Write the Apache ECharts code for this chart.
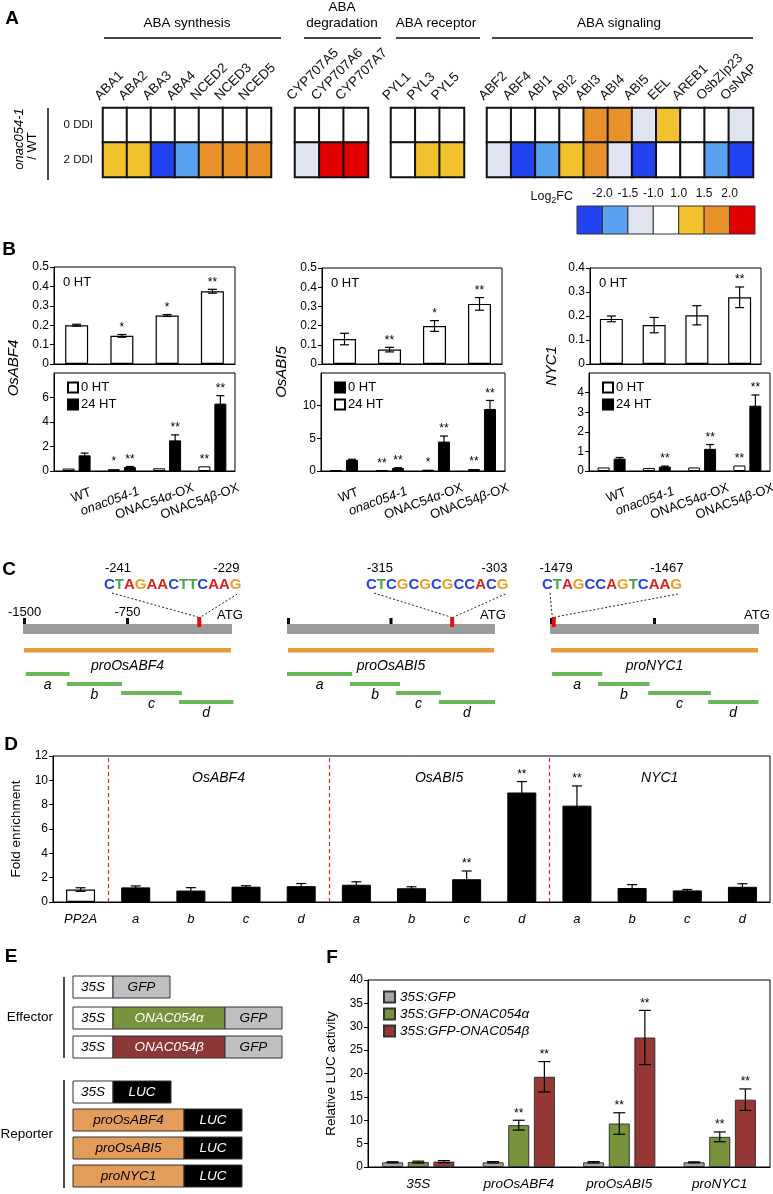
<!DOCTYPE html>
<html>
<head>
<meta charset="utf-8">
<script src="https://cdn.jsdelivr.net/npm/echarts@6.0.0/dist/echarts.min.js"></script>
<style>
html,body{margin:0;padding:0;background:#ffffff;}
#chart{width:773px;height:1194px;}
</style>
</head>
<body>
<div id="chart"></div>
<script>
// ======================= DATA =======================
// Panel A: Log2 fold change onac054-1 / WT (class estimates read from colours)
const hmRows = ['0 DDI', '2 DDI'];
const synthGenes = ['ABA1','ABA2','ABA3','ABA4','NCED2','NCED3','NCED5'];
const synthDDI0 = [0,0,0,0,0,0,0];
const synthDDI2 = [1.2,1.2,-2.3,-1.7,1.7,1.7,1.7];
const degrGenes = ['CYP707A5','CYP707A6','CYP707A7'];
const degrDDI0 = [0,0,0];
const degrDDI2 = [-1.2,2.3,2.3];
const recGenes = ['PYL1','PYL3','PYL5'];
const recDDI0 = [0,0,0];
const recDDI2 = [0,1.2,1.2];
const sigGenes = ['ABF2','ABF4','ABI1','ABI2','ABI3','ABI4','ABI5','EEL','AREB1','OsbZIp23','OsNAP'];
const sigDDI0 = [0,0,0,0,1.7,1.7,-1.2,1.2,0,0,-1.2];
const sigDDI2 = [-1.2,-2.3,-1.7,1.2,1.7,-1.2,-2.3,0,0,-1.7,-2.3];
const groupNames = ['ABA synthesis','ABA\ndegradation','ABA receptor','ABA signaling'];
const fcBreakLabels = ['-2.0','-1.5','-1.0','1.0','1.5','2.0'];
const fcBreaks = [-2,-1.5,-1,1,1.5,2];
const fcLegendValues = [-2.3,-1.7,-1.2,0,1.2,1.7,2.3];

// Panel B
const bCats = ['WT','onac054-1','ONAC54α-OX','ONAC54β-OX'];
const abf4Top = [0.200,0.145,0.250,0.375];
const abf4TopErr = [0.005,0.007,0.005,0.010];
const abf4TopSig = ['','*','*','**'];
const abf4White = [0.20,0.15,0.22,0.38];
const abf4WhiteSig = ['','*','','**'];
const abf4Black = [1.28,0.32,2.50,5.50];
const abf4BlackErr = [0.18,0.05,0.45,0.65];
const abf4BlackSig = ['','**','**','**'];
const abf4Legend = ['0 HT','24 HT'];           // names of [white, black] series

const abi5Top = [0.130,0.075,0.198,0.313];
const abi5TopErr = [0.030,0.012,0.028,0.033];
const abi5TopSig = ['','**','*','**'];
const abi5White = [0.12,0.08,0.20,0.30];
const abi5WhiteSig = ['','**','*','**'];
const abi5Black = [1.70,0.45,4.50,9.50];
const abi5BlackErr = [0.10,0.05,0.85,1.30];
const abi5BlackSig = ['','**','**','**'];
const abi5Legend = ['24 HT','0 HT'];           // as drawn in the original legend

const nyc1Top = [0.188,0.162,0.203,0.278];
const nyc1TopErr = [0.012,0.032,0.040,0.043];
const nyc1TopSig = ['','','','**'];
const nyc1White = [0.18,0.15,0.18,0.28];
const nyc1WhiteSig = ['','','','**'];
const nyc1Black = [0.63,0.22,1.13,3.33];
const nyc1BlackErr = [0.06,0.03,0.22,0.55];
const nyc1BlackSig = ['','**','**','**'];
const nyc1Legend = ['0 HT','24 HT'];
const topPanelNote = '0 HT';

// Panel C: promoter maps (bp relative to ATG)
const promoters = ['proOsABF4','proOsABI5','proNYC1'];
const promoterRange = [-1500, 0];
const scaleTicks = [-1500, -750];
const motifs = [[-241,-229],[-315,-303],[-1479,-1467]];
const motifSeqs = ['CTAGAACTTCAAG','CTCGCGCGCCACG','CTAGCCAGTCAAG'];
const fragNames = ['a','b','c','d'];
const abf4Frags = [[-1480,-1165],[-1185,-790],[-795,-360],[-380,10]];
const abi5Frags = [[-1500,-1030],[-1045,-685],[-715,-390],[-405,0]];
const nyc1Frags = [[-1485,-1125],[-1155,-785],[-795,-345],[-365,-5]];

// Panel D: ChIP fold enrichment
const dCats = ['PP2A','a','b','c','d','a','b','c','d','a','b','c','d'];
const dVals = [1.02,1.20,0.94,1.26,1.30,1.42,1.13,1.87,9.00,7.92,1.15,0.95,1.25];
const dErr  = [0.15,0.12,0.24,0.08,0.22,0.24,0.12,0.68,0.90,1.62,0.28,0.08,0.25];
const dSig  = ['','','','','','','','**','**','**','','',''];
const dGenes = ['OsABF4','OsABI5','NYC1'];
const dGroupStart = [1,5,9];
const dGroupSize = 4;

// Panel E: constructs
const effectorRows = [['35S','GFP'],['35S','ONAC054α','GFP'],['35S','ONAC054β','GFP']];
const reporterRows = [['35S','LUC'],['proOsABF4','LUC'],['proOsABI5','LUC'],['proNYC1','LUC']];

// Panel F: relative LUC activity
const fCats = ['35S','proOsABF4','proOsABI5','proNYC1'];
const fSeriesNames = ['35S:GFP','35S:GFP-ONAC054α','35S:GFP-ONAC054β'];
const fGfp = [1.00,1.00,1.00,1.00];
const fGfpErr = [0.12,0.15,0.15,0.10];
const fGfpSig = ['','','',''];
const fAlpha = [1.05,8.95,9.30,6.45];
const fAlphaErr = [0.20,1.05,2.30,1.05];
const fAlphaSig = ['','**','**','**'];
const fBeta = [1.15,19.30,27.70,14.40];
const fBetaErr = [0.22,3.25,5.80,2.30];
const fBetaSig = ['','**','**','**'];

// ======================= LAYOUT / STYLE =======================
const FF = '"Liberation Sans", Arial, Helvetica, sans-serif';
const COL = {db:'#2342f0', mb:'#5aa2f0', pb:'#dfe4f0', w:'#ffffff', y:'#f2c12e', o:'#e8912b', r:'#e00000'};
const grids = [], xAxes = [], yAxes = [], series = [], legends = [], graphics = [];
const hmSeriesIdx = [];

function addGrid(g){ grids.push(Object.assign({outerBoundsMode:'none', containLabel:false}, g)); return grids.length-1; }
function addX(a){ xAxes.push(a); return xAxes.length-1; }
function addY(a){ yAxes.push(a); return yAxes.length-1; }
function valueAxis(gi, min, max, interval, fs, hideMax, extra){
  return Object.assign({type:'value', gridIndex:gi, min:min, max:max, interval:interval,
    axisLine:{show:true, lineStyle:{color:'#000', width:1}},
    axisTick:{show:true, inside:false, length:4, lineStyle:{color:'#000', width:1}},
    axisLabel:{fontSize:fs, color:'#000', fontFamily:FF, margin:5, showMaxLabel: hideMax ? false : true},
    splitLine:{show:false}}, extra || {});
}
function catAxis(gi, data, labelOpts){
  return {type:'category', gridIndex:gi, data:data,
    axisLine:{show:true, lineStyle:{color:'#000', width:1}}, axisTick:{show:false},
    axisLabel: labelOpts ? Object.assign({interval:0, color:'#000', fontFamily:FF}, labelOpts) : {show:false},
    splitLine:{show:false}};
}
function txt(x, y, text, font, extra){
  const st = Object.assign({text:text, font:font, fill:'#000', align:'center', verticalAlign:'middle'}, extra || {});
  return {type:'text', x:x, y:y, silent:true, style:st};
}
function errBars(xi, yi, vals, errs, sigs, offset, capW, starSize){
  return {type:'custom', xAxisIndex:xi, yAxisIndex:yi, z:5, silent:true,
    data: vals.map((v,i) => [i, v, errs ? errs[i] : 0]),
    renderItem: function(params, api){
      const i = api.value(0), v = api.value(1), e = api.value(2);
      const c = api.coord([i, v]);
      const x = c[0] + offset;
      const yTop = api.coord([i, v + e])[1];
      const yBot = api.coord([i, Math.max(v - e, 0)])[1];
      const ch = [];
      const st = {stroke:'#000', lineWidth:1.2};
      if (e > 0) {
        ch.push({type:'line', shape:{x1:x, y1:yTop, x2:x, y2:yBot}, style:st});
        ch.push({type:'line', shape:{x1:x-capW/2, y1:yTop, x2:x+capW/2, y2:yTop}, style:st});
        ch.push({type:'line', shape:{x1:x-capW/2, y1:yBot, x2:x+capW/2, y2:yBot}, style:st});
      }
      const s = sigs ? sigs[params.dataIndex] : '';
      if (s) ch.push({type:'text', style:{text:s, x:x, y:yTop-1, align:'center', verticalAlign:'bottom', font:starSize+'px '+FF, fill:'#000'}});
      return {type:'group', children:ch};
    }};
}

// ---------------- Panel A ----------------
const hmBlocks = [
  {genes:synthGenes, r0:synthDDI0, r2:synthDDI2, left:103, width:168, showY:true, span:[104,281], hx:187},
  {genes:degrGenes, r0:degrDDI0, r2:degrDDI2, left:295, width:73, span:[304,381], hx:342},
  {genes:recGenes, r0:recDDI0, r2:recDDI2, left:391, width:73, span:[396,480], hx:436},
  {genes:sigGenes, r0:sigDDI0, r2:sigDDI2, left:487, width:266, span:[492,753], hx:619}
];
hmBlocks.forEach((b, k) => {
  const gi = addGrid({left:b.left, top:108, width:b.width, height:69});
  const xi = addX({type:'category', gridIndex:gi, data:b.genes, position:'top',
    axisLine:{show:false}, axisTick:{show:false}, splitLine:{show:false}, axisLabel:{show:false}});
  const yi = addY({type:'category', gridIndex:gi, data:hmRows, inverse:true,
    axisLine:{show:false}, axisTick:{show:false}, splitLine:{show:false},
    axisLabel:{show:!!b.showY, fontSize:11.5, color:'#111', fontFamily:FF, margin:10}});
  const data = b.r0.map((v,i) => [i, 0, v]).concat(b.r2.map((v,i) => [i, 1, v]));
  series.push({type:'heatmap', xAxisIndex:xi, yAxisIndex:yi, data:data, silent:true,
    itemStyle:{borderColor:'#111', borderWidth:2}, emphasis:{disabled:true}});
  hmSeriesIdx.push(series.length-1);
  // rotated gene labels, placed through the category scale
  const genes = b.genes;
  series.push({type:'custom', xAxisIndex:xi, yAxisIndex:yi, silent:true,
    data: genes.map((g,i) => [i, 0]),
    renderItem: function(params, api){
      const c = api.coord([api.value(0), 0]);
      return {type:'text', x:c[0]-13, y:params.coordSys.y-5, rotation:Math.PI/4,
        style:{text:genes[params.dataIndex], x:0, y:0, align:'left', verticalAlign:'bottom', font:'13.5px '+FF, fill:'#111'}};
    }});
  // group header + rule
  graphics.push(txt(b.hx, 31, groupNames[k], '13.5px '+FF, {verticalAlign:'bottom', lineHeight:16}));
  graphics.push({type:'line', silent:true, shape:{x1:b.span[0], y1:38, x2:b.span[1], y2:38}, style:{stroke:'#444', lineWidth:2}});
});
// colour legend
{
  const gi = addGrid({left:577, top:206, width:178, height:28});
  const xi = addX({type:'value', gridIndex:gi, min:0, max:fcLegendValues.length, interval:1, position:'top',
    axisLine:{show:false}, axisTick:{show:false}, splitLine:{show:false},
    axisLabel:{fontSize:12, color:'#111', fontFamily:FF, margin:6,
      formatter: v => (v >= 1 && v <= fcBreakLabels.length) ? fcBreakLabels[v-1] : ''}});
  const yi = addY({type:'value', gridIndex:gi, min:0, max:1, show:false});
  series.push({type:'custom', xAxisIndex:xi, yAxisIndex:yi, silent:true,
    data: fcLegendValues.map((v,i) => [i, 0, v]),
    renderItem: function(params, api){
      const p0 = api.coord([api.value(0), 1]);
      const p1 = api.coord([api.value(0)+1, 0]);
      return {type:'rect', shape:{x:p0[0], y:p0[1], width:p1[0]-p0[0], height:p1[1]-p0[1]},
        style:{fill:api.visual('color'), stroke:'#333', lineWidth:1}};
    }});
  hmSeriesIdx.push(series.length-1);
  graphics.push(txt(573, 197, '{n|Log}{s|2}{n|FC}', '12.5px '+FF, {align:'right',
    rich:{n:{fontSize:12.5, fontFamily:FF, lineHeight:16, fill:'#111'}, s:{fontSize:9, fontFamily:FF, lineHeight:9, verticalAlign:'bottom', fill:'#111'}}}));
}
graphics.push({type:'line', silent:true, shape:{x1:48, y1:108, x2:48, y2:180}, style:{stroke:'#111', lineWidth:1.5}});
graphics.push(Object.assign(txt(19, 139, 'onac054-1', 'italic 13px '+FF), {rotation:Math.PI/2}));
graphics.push(Object.assign(txt(32, 146, '/ WT', '13px '+FF), {rotation:Math.PI/2}));

// ---------------- Panel B ----------------
const bRich = {i:{fontStyle:'italic', fontSize:13, fontFamily:FF, color:'#000', padding:[0,10,0,0]},
               w:{fontSize:13, fontFamily:FF, color:'#000', padding:[0,13,0,0]},
               g:{fontStyle:'italic', fontSize:13, fontFamily:FF, color:'#000'}};
function bLabelFmt(v){
  if (v === 'onac054-1') return '{i|onac054-1}';
  if (v === 'WT') return '{w|WT}';
  return v.replace(/([αβ])/, '{g|$1}');
}
const bCharts = [
  {yName:'OsABF4', nameX:14, nameY:368,
   up:{left:54, top:267, width:181, height:97, max:0.5, interval:0.1},
   lo:{left:54, top:373, width:181, height:98, max:8, interval:2},
   top:[abf4Top, abf4TopErr, abf4TopSig],
   white:[abf4White, null, abf4WhiteSig], black:[abf4Black, abf4BlackErr, abf4BlackSig],
   names:abf4Legend, legendOrder:[0,1]},
  {yName:'OsABI5', nameX:282, nameY:372,
   up:{left:322, top:268, width:180, height:96, max:0.5, interval:0.1},
   lo:{left:321, top:373, width:184, height:98, max:15, interval:5},
   top:[abi5Top, abi5TopErr, abi5TopSig],
   white:[abi5White, null, abi5WhiteSig], black:[abi5Black, abi5BlackErr, abi5BlackSig],
   names:abi5Legend, legendOrder:[1,0]},
  {yName:'NYC1', nameX:552, nameY:366,
   up:{left:590, top:268, width:171, height:96, max:0.4, interval:0.1},
   lo:{left:589, top:373, width:181, height:98, max:5, interval:1},
   top:[nyc1Top, nyc1TopErr, nyc1TopSig],
   white:[nyc1White, null, nyc1WhiteSig], black:[nyc1Black, nyc1BlackErr, nyc1BlackSig],
   names:nyc1Legend, legendOrder:[0,1]}
];
bCharts.forEach((b, k) => {
  // upper panel (0 HT)
  const gU = addGrid({left:b.up.left, top:b.up.top, width:b.up.width, height:b.up.height, show:true, borderColor:'#000', borderWidth:1});
  const xU = addX(catAxis(gU, bCats, null));
  const yU = addY(valueAxis(gU, 0, b.up.max, b.up.interval, 12, false));
  series.push({type:'bar', xAxisIndex:xU, yAxisIndex:yU, data:b.top[0], barWidth:23, silent:true,
    itemStyle:{color:'#fff', borderColor:'#000', borderWidth:1.2}});
  series.push(errBars(xU, yU, b.top[0], b.top[1], b.top[2], 0, 9, 12));
  graphics.push(txt(b.up.left+9, b.up.top+15, topPanelNote, '13px '+FF, {align:'left'}));
  // lower panel (0 HT vs 24 HT)
  const gL = addGrid({left:b.lo.left, top:b.lo.top, width:b.lo.width, height:b.lo.height, show:true, borderColor:'#000', borderWidth:1});
  const xL = addX(catAxis(gL, bCats, {rotate:20, fontSize:13, margin:26, padding:[0,-28,0,0], formatter:bLabelFmt, rich:bRich}));
  const yL = addY(valueAxis(gL, 0, b.lo.max, b.lo.interval, 12, true));
  const keyW = 'B'+k+'w', keyB = 'B'+k+'b';
  series.push({type:'bar', name:keyW, xAxisIndex:xL, yAxisIndex:yL, data:b.white[0], barWidth:12, barGap:'33%', silent:true,
    itemStyle:{color:'#fff', borderColor:'#000', borderWidth:1}});
  series.push({type:'bar', name:keyB, xAxisIndex:xL, yAxisIndex:yL, data:b.black[0], barWidth:12, barGap:'33%', silent:true,
    itemStyle:{color:'#000', borderColor:'#000', borderWidth:1}});
  series.push(errBars(xL, yL, b.white[0], b.white[1], b.white[2], -8, 8, 12));
  series.push(errBars(xL, yL, b.black[0], b.black[1], b.black[2], 8, 8, 12));
  const keys = [keyW, keyB];
  const nameMap = {}; nameMap[keyW] = b.names[0]; nameMap[keyB] = b.names[1];
  legends.push({left:b.lo.left+8, top:b.lo.top+3, orient:'vertical', itemGap:4, itemWidth:10, itemHeight:10,
    icon:'rect', selectedMode:false, data:b.legendOrder.map(i => keys[i]),
    formatter: n => nameMap[n], textStyle:{fontSize:13, color:'#000', fontFamily:FF, padding:[0,0,0,-2]}});
  graphics.push(Object.assign(txt(b.nameX, b.nameY, b.yName, 'italic 15px '+FF), {rotation:Math.PI/2}));
});

// ---------------- Panel C ----------------
const cLayout = [{left:23, width:209, seqLeft:104}, {left:287, width:208, seqLeft:366}, {left:550, width:209, seqLeft:542}];
const cFrags = [abf4Frags, abi5Frags, nyc1Frags];
const cTop = 610, cH = 100;
const fragLevels = [62, 72, 81, 90];
const seqColors = {A:'#d82222', C:'#2446d8', G:'#ef9c22', T:'#45a84f'};
const SEQ_FONT = 'bold 15px ' + FF;
const measureCtx = document.createElement('canvas').getContext('2d');
function textWidth(s, font){ measureCtx.font = font; return measureCtx.measureText(s).width; }
const seqRich = {};
Object.keys(seqColors).forEach(ch => { seqRich[ch] = {fill:seqColors[ch], fontSize:15, fontWeight:'bold', fontFamily:FF}; });

promoters.forEach((pname, p) => {
  const L = cLayout[p];
  const gi = addGrid({left:L.left, top:cTop, width:L.width, height:cH});
  const xi = addX({type:'value', gridIndex:gi, min:promoterRange[0], max:promoterRange[1], show:false});
  const yi = addY({type:'value', gridIndex:gi, min:0, max:cH, inverse:true, show:false});
  const seqW = textWidth(motifSeqs[p], SEQ_FONT);
  const showScale = (p === 0);
  series.push({type:'custom', xAxisIndex:xi, yAxisIndex:yi, silent:true, z:3,
    data:[[promoterRange[0], promoterRange[1], motifs[p][0], motifs[p][1]]],
    renderItem: function(params, api){
      const s = api.value(0), e = api.value(1);
      const X = v => api.coord([v, 0])[0];
      const Y = v => api.coord([s, v])[1];
      const x0 = X(s), x1 = X(e);
      const mx = X((api.value(2) + api.value(3)) / 2);
      const ch = [];
      ch.push({type:'rect', shape:{x:x0, y:Y(14), width:x1-x0, height:Y(24)-Y(14)}, style:{fill:'#9b9b9b'}});
      scaleTicks.forEach(t => {
        const tx = X(t) + (t === s ? 1.5 : 0);
        ch.push({type:'rect', shape:{x:tx-1.5, y:Y(8), width:3, height:Y(14)-Y(8)}, style:{fill:'#000'}});
        if (showScale) ch.push({type:'text', style:{text:String(t), x:tx, y:Y(2), align:'center', verticalAlign:'middle', font:'13px '+FF, fill:'#000'}});
      });
      ch.push({type:'rect', shape:{x:mx-2, y:Y(7), width:4, height:Y(17)-Y(7)}, style:{fill:'#e01010'}});
      ch.push({type:'text', style:{text:'ATG', x:x1-2, y:Y(5), align:'center', verticalAlign:'middle', font:'13px '+FF, fill:'#000'}});
      ch.push({type:'rect', shape:{x:x0+1, y:Y(38), width:x1-x0-2, height:Y(42.5)-Y(38)}, style:{fill:'#e69b3a'}});
      ch.push({type:'text', style:{text:pname, x:X((s+e)/2), y:Y(56), align:'center', verticalAlign:'middle', font:'italic 14px '+FF, fill:'#000'}});
      const ds = {stroke:'#222', lineWidth:1, lineDash:[2,2]};
      ch.push({type:'line', shape:{x1:L.seqLeft+8, y1:593, x2:mx-1.5, y2:Y(7)}, style:ds});
      ch.push({type:'line', shape:{x1:L.seqLeft+seqW-3, y1:594, x2:mx+1.5, y2:Y(7)}, style:ds});
      return {type:'group', children:ch};
    }});
  series.push({type:'custom', xAxisIndex:xi, yAxisIndex:yi, silent:true, z:3,
    data: cFrags[p].map((f,k) => [f[0], f[1], k]),
    renderItem: function(params, api){
      const k = api.value(2);
      const a = api.coord([api.value(0), fragLevels[k]]);
      const b = api.coord([api.value(1), fragLevels[k] + 4]);
      return {type:'group', children:[
        {type:'rect', shape:{x:a[0], y:a[1], width:b[0]-a[0], height:b[1]-a[1]}, style:{fill:'#68b85a'}},
        {type:'text', style:{text:fragNames[k], x:(a[0]+b[0])/2, y:a[1]+13, align:'center', verticalAlign:'middle', font:'italic 14px '+FF, fill:'#000'}}
      ]};
    }});
  graphics.push({type:'text', x:L.seqLeft, y:585, silent:true,
    style:{text: motifSeqs[p].split('').map(c => '{'+c+'|'+c+'}').join(''), rich:seqRich, font:SEQ_FONT, align:'left', verticalAlign:'middle'}});
  graphics.push(txt(L.seqLeft+14, 568, String(motifs[p][0]), '13px '+FF));
  graphics.push(txt(L.seqLeft+seqW-14, 568, String(motifs[p][1]), '13px '+FF));
});

// ---------------- Panel D ----------------
{
  const gi = addGrid({left:53, top:756, width:717, height:146, show:true, borderColor:'#000', borderWidth:1});
  const xi = addX(catAxis(gi, dCats.map((c,i) => c + '_' + i), {fontSize:13, fontStyle:'italic', margin:11, formatter:(v, i) => dCats[i]}));
  const xv = addX({type:'value', gridIndex:gi, min:0, max:dCats.length, show:false});
  const yi = addY(valueAxis(gi, 0, 12, 2, 12, false, {name:'Fold enrichment', nameLocation:'middle', nameRotate:90, nameGap:29,
    nameTextStyle:{fontSize:13.5, fontFamily:FF, color:'#000'}}));
  series.push({type:'bar', xAxisIndex:xi, yAxisIndex:yi, barWidth:29, silent:true,
    data: dVals.map((v,i) => ({value:v, itemStyle: i === 0 ? {color:'#fff', borderColor:'#000', borderWidth:1.2} : {color:'#000', borderColor:'#000', borderWidth:1}}))});
  series.push(errBars(xi, yi, dVals, dErr, dSig, 0, 10, 12));
  series.push({type:'line', xAxisIndex:xv, yAxisIndex:yi, data:[[0,0]], showSymbol:false, silent:true, lineStyle:{opacity:0},
    markLine:{silent:true, symbol:'none', label:{show:false}, animation:false,
      lineStyle:{color:'#e02424', type:[4,3], width:1.2},
      data: dGroupStart.map(v => ({xAxis:v}))}});
  series.push({type:'custom', xAxisIndex:xv, yAxisIndex:yi, silent:true,
    data: dGenes.map((g,k) => [dGroupStart[k] + dGroupSize/2, k]),
    renderItem: function(params, api){
      const x = api.coord([api.value(0), 0])[0];
      return {type:'text', style:{text:dGenes[api.value(1)], x:x, y:params.coordSys.y + 22, align:'center', verticalAlign:'middle', font:'italic 14px '+FF, fill:'#000'}};
    }});
}

// ---------------- Panel E ----------------
{
  const partW = {'35S':40, 'GFP':57, 'ONAC054α':112, 'ONAC054β':112, 'LUC':58, 'proOsABF4':111, 'proOsABI5':111, 'proNYC1':111};
  const partFill = {'35S':'#ffffff', 'GFP':'#bfbfbf', 'ONAC054α':'#77933c', 'ONAC054β':'#8c3836', 'LUC':'#000000', 'proOsABF4':'#e49c5b', 'proOsABI5':'#e49c5b', 'proNYC1':'#e49c5b'};
  const whiteText = {'ONAC054α':1, 'ONAC054β':1, 'LUC':1};
  function drawRow(parts, top){
    let x = 73;
    parts.forEach(pt => {
      const w = partW[pt];
      graphics.push({type:'rect', silent:true, shape:{x:x, y:top, width:w, height:22}, style:{fill:partFill[pt], stroke:'#333', lineWidth:1}});
      graphics.push(txt(x + w/2, top + 11.5, pt, 'italic 13.5px '+FF, {fill: whiteText[pt] ? '#fff' : '#000'}));
      x += w;
    });
  }
  const effTops = [976, 1007, 1036];
  const repTops = [1081, 1109, 1137, 1165];
  effectorRows.forEach((r,i) => drawRow(r, effTops[i]));
  reporterRows.forEach((r,i) => drawRow(r, repTops[i]));
  graphics.push({type:'line', silent:true, shape:{x1:64, y1:977, x2:64, y2:1058}, style:{stroke:'#111', lineWidth:1.5}});
  graphics.push({type:'line', silent:true, shape:{x1:64, y1:1080, x2:64, y2:1188}, style:{stroke:'#111', lineWidth:1.5}});
  graphics.push(txt(53, 1017, 'Effector', '13.5px '+FF, {align:'right'}));
  graphics.push(txt(53, 1134, 'Reporter', '13.5px '+FF, {align:'right'}));
}

// ---------------- Panel F ----------------
{
  const gi = addGrid({left:368, top:980, width:402, height:187, show:true, borderColor:'#000', borderWidth:1});
  const xi = addX(catAxis(gi, fCats, {fontSize:13.5, fontStyle:'italic', margin:10}));
  const yi = addY(valueAxis(gi, 0, 40, 5, 12, false, {name:'Relative LUC activity', nameLocation:'middle', nameRotate:90, nameGap:27,
    nameTextStyle:{fontSize:13.5, fontFamily:FF, color:'#000'}}));
  const fills = ['#a6a6a6', '#77933c', '#953735'];
  const vals = [fGfp, fAlpha, fBeta], errs = [fGfpErr, fAlphaErr, fBetaErr], sigs = [fGfpSig, fAlphaSig, fBetaSig];
  const bw = 21, gap = 0.22;
  fSeriesNames.forEach((n, k) => {
    series.push({type:'bar', name:n, xAxisIndex:xi, yAxisIndex:yi, data:vals[k], barWidth:bw, barGap:(gap*100)+'%', silent:true,
      itemStyle:{color:fills[k], borderColor:'#333', borderWidth:1}});
  });
  fSeriesNames.forEach((n, k) => {
    series.push(errBars(xi, yi, vals[k], errs[k], sigs[k], (k-1)*bw*(1+gap), 12, 12));
  });
  legends.push({left:378, top:985, orient:'vertical', itemGap:3, itemWidth:11, itemHeight:11, icon:'rect', selectedMode:false,
    data:fSeriesNames, textStyle:{fontSize:13.5, fontStyle:'italic', color:'#000', fontFamily:FF}});
}

// ---------------- panel letters ----------------
[['A',12,19],['B',9,250],['C',9,570],['D',11,745],['E',11,957],['F',332,958]].forEach(l => {
  graphics.push(txt(l[1], l[2], l[0], 'bold 19px '+FF));
});

// ======================= CHART =======================
const pieces = [
  {lt:fcBreaks[0], color:COL.db},
  {gte:fcBreaks[0], lt:fcBreaks[1], color:COL.mb},
  {gte:fcBreaks[1], lt:fcBreaks[2], color:COL.pb},
  {gte:fcBreaks[2], lte:fcBreaks[3], color:COL.w},
  {gt:fcBreaks[3], lte:fcBreaks[4], color:COL.y},
  {gt:fcBreaks[4], lte:fcBreaks[5], color:COL.o},
  {gt:fcBreaks[5], color:COL.r}
];
const chart = echarts.init(document.getElementById('chart'), null, {renderer:'canvas', width:773, height:1194});
chart.setOption({
  animation:false,
  backgroundColor:'#ffffff',
  textStyle:{fontFamily:FF},
  tooltip:{show:false},
  grid:grids, xAxis:xAxes, yAxis:yAxes, series:series, legend:legends,
  visualMap:[{type:'piecewise', show:false, dimension:2, seriesIndex:hmSeriesIdx, pieces:pieces}],
  graphic:{elements:graphics}
});
</script>
</body>
</html>
